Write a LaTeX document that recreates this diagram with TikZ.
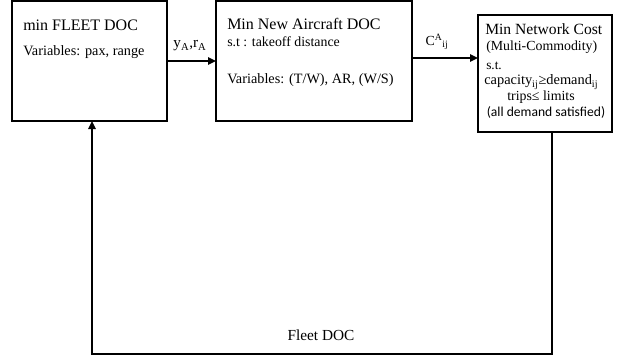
\documentclass[tikz,border=0pt]{standalone}
\usepackage{fontspec}
\setmainfont{Liberation Serif}
\newfontfamily\calfont{Carlito}
\usetikzlibrary{arrows.meta}

\tikzset{
  box/.style={draw,line width=1.1pt,inner sep=0pt,outer sep=0pt},
  big/.style={font=\fontsize{12}{14}\selectfont,inner sep=0pt},
  mid/.style={font=\fontsize{10.7}{13}\selectfont,inner sep=0pt},
  sml/.style={font=\fontsize{10.4}{12}\selectfont,inner sep=0pt},
  >={Triangle[length=6pt,width=5.5pt]}
}

\begin{document}
\begin{tikzpicture}[x=0.75pt,y=-0.75pt]
  \useasboundingbox (0,0) rectangle (626,362);
  \node[box,minimum width=116.25pt,minimum height=90pt] (B1) at (89.5,61) {};
  \node[box,minimum width=147pt,minimum height=90pt] (B2) at (314,61) {};
  \node[box,minimum width=100.5pt,minimum height=87.75pt] (B3) at (545,73.5) {};
  % text of the fleet box
  \node[big,anchor=west] (F1) at (23,25) {min FLEET DOC};
  \node[mid,anchor=west] (F2) at (23,52) {Variables: pax, range};
  % text of the aircraft box
  \node[big,anchor=west] (A1) at (227,24) {Min New Aircraft DOC};
  \node[sml,anchor=west] (A2) at (227,42) {s.t : takeoff distance};
  \node[mid,anchor=west] (A3) at (227,80) {Variables: (T/W), AR, (W/S)};
  % text of the network box
  \node[big,font=\fontsize{11.7}{14}\selectfont,anchor=west] (N1) at (485,29) {Min Network Cost};
  \node[sml,anchor=west] (N2) at (486,47) {(Multi-Commodity)};
  \node[sml,font=\fontsize{10}{12}\selectfont,anchor=west] (N3) at (486,66) {s.t.};
  \node[sml,font=\fontsize{10.8}{12}\selectfont,anchor=west] (N4) at (484,82) {capacity\textsubscript{ij}≥demand\textsubscript{ij}};
  \node[sml,font=\fontsize{10.4}{12}\selectfont] (N5) at (541,97) {trips≤ limits};
  \node[sml,font=\calfont\fontsize{10.2}{12}\selectfont] (N6) at (546,112) {(all demand satisfied)};
  % connectors
  \path[->,line width=1.5pt] (B1) edge (B2);
  \node[mid,font=\fontsize{11.4}{13}\selectfont] (L1) at (190,46) {y\textsubscript{A},r\textsubscript{A}};
  \draw[->,line width=1.5pt] (B2.east |- 0,58) -- (B3.west |- 0,58);
  \node[sml] (L2) at (437,42) {C\textsuperscript{A}\textsubscript{ij}};
  \coordinate (fbR) at (552,354);
  \coordinate (fbL) at (92,354);
  \draw[->,line width=1.6pt] (B3.south -| fbR) -- (fbR) -- (fbL) -- (B1.south -| fbL);
  \node[mid,font=\fontsize{11.5}{13}\selectfont] (L3) at (321,335) {Fleet DOC};
\end{tikzpicture}
\end{document}
